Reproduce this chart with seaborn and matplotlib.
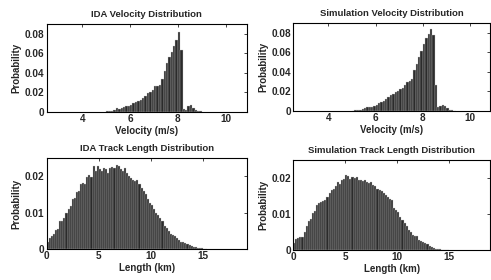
import numpy as np
import pandas as pd
import matplotlib
matplotlib.use("Agg")
import matplotlib.pyplot as plt
import seaborn as sns

# velocity histograms, 0.1 m/s bins starting at 5.0 m/s
vel_start = 5.0
vel_bin = 0.1
ida_vel = [0.0003, 0.0005, 0.0010, 0.0015, 0.0040, 0.0030, 0.0035, 0.0045, 0.0060, 0.0062,
           0.0070, 0.0086, 0.0096, 0.0110, 0.0125, 0.0140, 0.0165, 0.0190, 0.0207, 0.0224,
           0.0260, 0.0270, 0.0276, 0.0340, 0.0420, 0.0500, 0.0560, 0.0620, 0.0680, 0.0740,
           0.0820, 0.0640, 0.0030, 0.0020, 0.0060, 0.0070, 0.0040, 0.0020, 0.0010, 0.0005]
sim_vel = [0.0003, 0.0005, 0.0008, 0.0010, 0.0020, 0.0030, 0.0035, 0.0040, 0.0038, 0.0050,
           0.0065, 0.0080, 0.0092, 0.0105, 0.0120, 0.0140, 0.0160, 0.0175, 0.0190, 0.0205,
           0.0220, 0.0240, 0.0270, 0.0295, 0.0305, 0.0330, 0.0420, 0.0480, 0.0550, 0.0620,
           0.0690, 0.0745, 0.0790, 0.0840, 0.0780, 0.0270, 0.0040, 0.0050, 0.0060, 0.0045,
           0.0025, 0.0012, 0.0006, 0.0003]

# track length histograms, 0.2 km bins starting at 0 km
len_start = 0.0
len_bin = 0.2
ida_len = [0.0021, 0.0030, 0.0037, 0.0042, 0.0054, 0.0055, 0.0077, 0.0078, 0.0086, 0.0100,
           0.0111, 0.0118, 0.0139, 0.0140, 0.0156, 0.0160, 0.0179, 0.0183, 0.0180, 0.0197,
           0.0204, 0.0197, 0.0228, 0.0216, 0.0228, 0.0220, 0.0215, 0.0222, 0.0220, 0.0210,
           0.0222, 0.0225, 0.0222, 0.0231, 0.0229, 0.0220, 0.0215, 0.0222, 0.0210, 0.0200,
           0.0195, 0.0190, 0.0188, 0.0189, 0.0178, 0.0168, 0.0160, 0.0152, 0.0137, 0.0126,
           0.0121, 0.0110, 0.0100, 0.0095, 0.0086, 0.0077, 0.0063, 0.0058, 0.0049, 0.0043,
           0.0040, 0.0035, 0.0030, 0.0024, 0.0021, 0.0019, 0.0017, 0.0015, 0.0011, 0.0009,
           0.0007, 0.0006, 0.0004, 0.0003, 0.0002, 0.0001, 0.0001]
sim_len = [0.0020, 0.0030, 0.0035, 0.0036, 0.0037, 0.0052, 0.0066, 0.0080, 0.0086, 0.0103,
           0.0110, 0.0126, 0.0132, 0.0133, 0.0135, 0.0139, 0.0148, 0.0158, 0.0168, 0.0170,
           0.0177, 0.0188, 0.0184, 0.0195, 0.0197, 0.0209, 0.0205, 0.0197, 0.0203, 0.0200,
           0.0203, 0.0195, 0.0195, 0.0193, 0.0195, 0.0190, 0.0186, 0.0188, 0.0180, 0.0177,
           0.0170, 0.0166, 0.0163, 0.0158, 0.0154, 0.0147, 0.0142, 0.0140, 0.0117, 0.0112,
           0.0107, 0.0093, 0.0084, 0.0075, 0.0066, 0.0056, 0.0052, 0.0043, 0.0040, 0.0040,
           0.0029, 0.0026, 0.0024, 0.0019, 0.0017, 0.0012, 0.0010, 0.0007, 0.0005, 0.0004,
           0.0003, 0.0002, 0.0001, 0.0001, 0.0001]

titles = ["IDA Velocity Distribution", "Simulation Velocity Distribution",
          "IDA Track Length Distribution", "Simulation Track Length Distribution"]
vel_ticks = [4, 6, 8, 10]
vel_yticks = [0, 0.02, 0.04, 0.06, 0.08]
vel_yticklabels = ["0", "0.02", "0.04", "0.06", "0.08"]
len_ticks = [0, 5, 10, 15]
len_yticks = [0, 0.01, 0.02]
len_yticklabels = ["0", "0.01", "0.02"]

sns.set_style("white")
plt.rcParams['font.family'] = ['Liberation Sans', 'DejaVu Sans']
plt.rcParams['font.weight'] = 'bold'


def to_frame(vals, start, width):
    n = len(vals)
    centers = start + width * (np.arange(n) + 0.5)
    return pd.DataFrame({'x': centers, 'p': vals}), (start, start + n * width)


def draw(ax, vals, start, width, title, xlabel, xlim, ylim, xticks, yticks, ylabels):
    df, rng = to_frame(vals, start, width)
    sns.histplot(data=df, x='x', weights='p', binwidth=width, binrange=rng, ax=ax,
                 color='#2b2b2b', edgecolor='#c8c8c8', linewidth=0.25, alpha=1)
    ax.set_xlim(*xlim)
    ax.set_ylim(*ylim)
    ax.set_xticks(xticks)
    ax.set_xticklabels([str(t) for t in xticks])
    ax.set_yticks(yticks)
    ax.set_yticklabels(ylabels)
    ax.tick_params(direction='in', length=2, width=0.6, top=True, right=True,
                   labelsize=7.2, pad=1.5)
    ax.set_title(title, fontsize=6.8, fontweight='bold', pad=5)
    ax.set_xlabel(xlabel, fontsize=7, fontweight='bold', labelpad=1.5)
    ax.set_ylabel("Probability", fontsize=7, fontweight='bold', labelpad=2.5)
    for s in ax.spines.values():
        s.set_color('black')
        s.set_linewidth(0.8)
        s.set_visible(True)


fig = plt.figure(figsize=(4.91, 2.80), dpi=100)
ax1 = fig.add_axes([0.095, 0.601, 0.408, 0.312])
ax2 = fig.add_axes([0.597, 0.604, 0.401, 0.313])
ax3 = fig.add_axes([0.095, 0.110, 0.408, 0.325])
ax4 = fig.add_axes([0.597, 0.106, 0.401, 0.323])

draw(ax1, ida_vel, vel_start, vel_bin, titles[0], "Velocity (m/s)", (2.5, 10.9), (0, 0.09),
     vel_ticks, vel_yticks, vel_yticklabels)
draw(ax2, sim_vel, vel_start, vel_bin, titles[1], "Velocity (m/s)", (2.5, 10.85), (0, 0.09),
     vel_ticks, vel_yticks, vel_yticklabels)
draw(ax3, ida_len, len_start, len_bin, titles[2], "Length (km)", (0, 19.2), (0, 0.025),
     len_ticks, len_yticks, len_yticklabels)
draw(ax4, sim_len, len_start, len_bin, titles[3], "Length (km)", (0, 18.9), (0, 0.025),
     len_ticks, len_yticks, len_yticklabels)

fig.savefig("out.png", dpi=100)
